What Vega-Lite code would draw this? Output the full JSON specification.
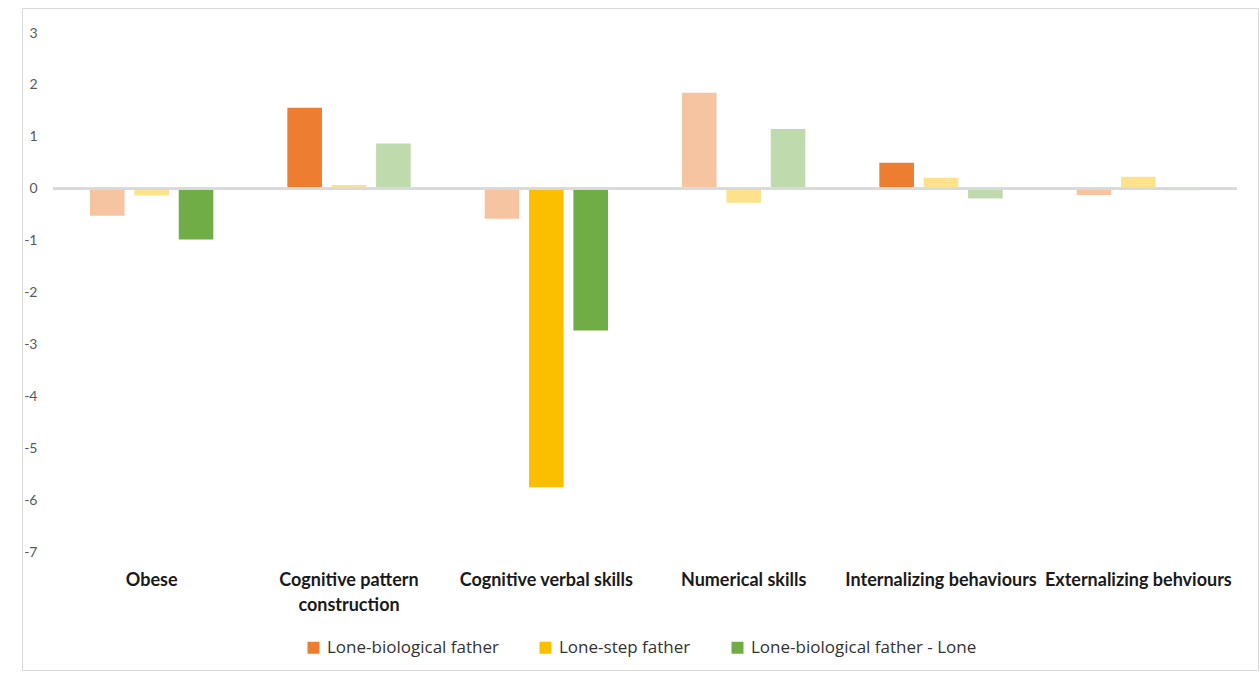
{
  "$schema": "https://vega.github.io/schema/vega-lite/v6.json",
  "width": 1236,
  "height": 662,
  "autosize": {"type": "none"},
  "padding": {"left": 22, "top": 8, "right": 2, "bottom": 7},
  "background": "white",
  "config": {
    "view": {"stroke": "#D9D9D9", "strokeWidth": 1},
    "font": "Lato"
  },
  "data": {
    "values": [
      {"category": "Obese", "series": "Lone-biological father", "value": -0.52, "sig": "ns"},
      {"category": "Obese", "series": "Lone-step father", "value": -0.13, "sig": "ns"},
      {"category": "Obese", "series": "Lone-biological father - Lone", "value": -0.98, "sig": "sig"},
      {"category": "Cognitive pattern construction", "series": "Lone-biological father", "value": 1.56, "sig": "sig"},
      {"category": "Cognitive pattern construction", "series": "Lone-step father", "value": 0.07, "sig": "ns"},
      {"category": "Cognitive pattern construction", "series": "Lone-biological father - Lone", "value": 0.87, "sig": "ns"},
      {"category": "Cognitive verbal skills", "series": "Lone-biological father", "value": -0.58, "sig": "ns"},
      {"category": "Cognitive verbal skills", "series": "Lone-step father", "value": -5.75, "sig": "sig"},
      {"category": "Cognitive verbal skills", "series": "Lone-biological father - Lone", "value": -2.73, "sig": "sig"},
      {"category": "Numerical skills", "series": "Lone-biological father", "value": 1.85, "sig": "ns"},
      {"category": "Numerical skills", "series": "Lone-step father", "value": -0.27, "sig": "ns"},
      {"category": "Numerical skills", "series": "Lone-biological father - Lone", "value": 1.15, "sig": "ns"},
      {"category": "Internalizing behaviours", "series": "Lone-biological father", "value": 0.5, "sig": "sig"},
      {"category": "Internalizing behaviours", "series": "Lone-step father", "value": 0.21, "sig": "ns"},
      {"category": "Internalizing behaviours", "series": "Lone-biological father - Lone", "value": -0.19, "sig": "ns"},
      {"category": "Externalizing behviours", "series": "Lone-biological father", "value": -0.12, "sig": "ns"},
      {"category": "Externalizing behviours", "series": "Lone-step father", "value": 0.23, "sig": "ns"},
      {"category": "Externalizing behviours", "series": "Lone-biological father - Lone", "value": -0.03, "sig": "ns"}
    ]
  },
  "layer": [
    {
      "mark": {"type": "bar"},
      "encoding": {
        "x": {
          "field": "category",
          "type": "nominal",
          "scale": {
            "domain": ["Obese", "Cognitive pattern construction", "Cognitive verbal skills", "Numerical skills", "Internalizing behaviours", "Externalizing behviours"],
            "range": [31, 1215],
            "paddingInner": 0.375,
            "paddingOuter": 0.1875
          },
          "axis": {
            "orient": "bottom",
            "offset": -99,
            "title": null,
            "ticks": false,
            "domain": false,
            "grid": false,
            "labelAngle": 0,
            "labelPadding": 0,
            "labelFont": "Lato",
            "labelFontSize": 18,
            "labelFontWeight": "bold",
            "labelColor": "#1a1a1a",
            "labelLimit": 400,
            "labelOverlap": false,
            "labelBound": false,
            "labelLineHeight": 25,
            "labelBaseline": "top",
            "labelExpr": "datum.label == 'Cognitive pattern construction' ? ['Cognitive pattern', 'construction'] : datum.label"
          }
        },
        "xOffset": {
          "field": "series",
          "type": "nominal",
          "scale": {
            "domain": ["Lone-biological father", "Lone-step father", "Lone-biological father - Lone"],
            "paddingInner": 0.22,
            "paddingOuter": 0
          }
        },
        "y": {
          "field": "value",
          "type": "quantitative",
          "scale": {"domain": [-7, 3], "range": [544, 25], "nice": false, "zero": false},
          "axis": {
            "orient": "left",
            "offset": -17,
            "title": null,
            "ticks": false,
            "domain": false,
            "grid": false,
            "values": [-7, -6, -5, -4, -3, -2, -1, 0, 1, 2, 3],
            "labelExpr": "'' + datum.value",
            "labelPadding": 2,
            "labelFontSize": 14,
            "labelColor": "#595959"
          }
        },
        "color": {
          "field": "series",
          "type": "nominal",
          "scale": {
            "domain": ["Lone-biological father", "Lone-step father", "Lone-biological father - Lone"],
            "range": ["#ED7D31", "#FBBF00", "#70AD47"]
          },
          "legend": {
            "orient": "none",
            "legendX": 283,
            "legendY": 631,
            "direction": "horizontal",
            "title": null,
            "symbolType": "square",
            "symbolSize": 144,
            "symbolStrokeWidth": 0,
            "labelFont": "Open Sans",
            "labelFontSize": 17,
            "labelColor": "#333333",
            "labelOffset": 5,
            "labelLimit": 400,
            "columnPadding": 38
          }
        },
        "fillOpacity": {
          "field": "sig",
          "type": "nominal",
          "scale": {"domain": ["sig", "ns"], "range": [1, 0.45]},
          "legend": null
        }
      }
    },
    {
      "mark": {"type": "rule", "color": "#D9D9D9", "strokeWidth": 2},
      "encoding": {
        "y": {"datum": 0, "type": "quantitative"},
        "x": {"datum": "Obese", "type": "nominal", "bandPosition": -0.3},
        "x2": {"datum": "Externalizing behviours", "bandPosition": 1.3}
      }
    }
  ]
}
